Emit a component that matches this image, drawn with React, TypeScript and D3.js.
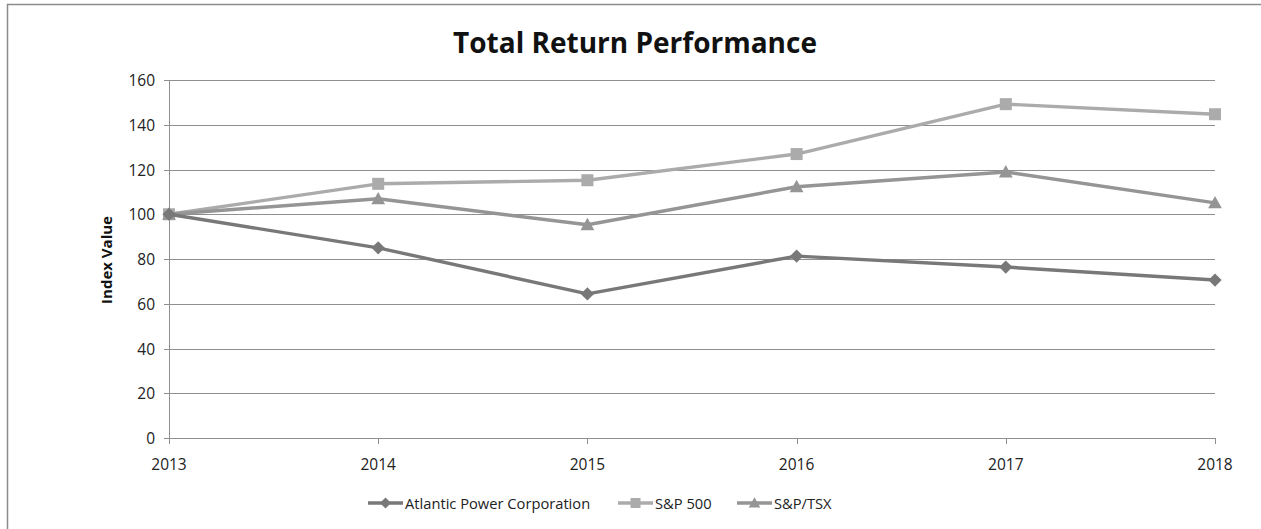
import React, { useEffect, useRef } from "react";
import * as d3 from "d3";

const years = ["2013", "2014", "2015", "2016", "2017", "2018"];
const atlanticPower = [100, 85, 64.4, 81.3, 76.4, 70.6];
const sp500 = [100, 113.6, 115.2, 126.9, 149.2, 144.7];
const spTsx = [100, 106.9, 95.3, 112.3, 118.9, 105.1];
const yTicks = [0, 20, 40, 60, 80, 100, 120, 140, 160];

const seriesDefs = [
  { name: "Atlantic Power Corporation", values: atlanticPower, color: "#787878", marker: "diamond" },
  { name: "S&P 500", values: sp500, color: "#ababab", marker: "square" },
  { name: "S&P/TSX", values: spTsx, color: "#959595", marker: "triangle" },
];

const W = 1261;
const H = 529;
const FONT = "'Open Sans', 'DejaVu Sans', sans-serif";

export default function App() {
  const ref = useRef<SVGSVGElement>(null);

  useEffect(() => {
    const svg = d3.select(ref.current);
    svg.selectAll("*").remove();

    const left = 169, right = 1215, top = 80, bottom = 438;
    const x = d3.scalePoint<string>().domain(years).range([left, right]);
    const y = d3.scaleLinear().domain([0, 160]).range([bottom, top]);

    svg.append("rect").attr("width", W).attr("height", H).attr("fill", "#fff");
    svg.append("path").attr("d", `M7.5,${H}V4.5H${W}`).attr("fill", "none").attr("stroke", "#8c8c8c").attr("stroke-width", 1.5);

    svg.append("text")
      .attr("x", 635).attr("y", 53)
      .attr("text-anchor", "middle")
      .attr("font-family", FONT).attr("font-weight", "bold").attr("font-size", 28)
      .attr("fill", "#111")
      .text("Total Return Performance");

    const g = svg.append("g");
    yTicks.forEach((t) => {
      g.append("line")
        .attr("x1", left - 5).attr("x2", right)
        .attr("y1", Math.round(y(t)) + 0.5).attr("y2", Math.round(y(t)) + 0.5)
        .attr("stroke", "#8f8f8f").attr("stroke-width", 1);
      g.append("text")
        .attr("x", left - 14).attr("y", y(t) + 6)
        .attr("text-anchor", "end")
        .attr("font-family", FONT).attr("font-size", 15.5).attr("fill", "#222")
        .text(String(t));
    });
    g.append("line").attr("x1", left + 0.5).attr("x2", left + 0.5).attr("y1", top).attr("y2", bottom + 5)
      .attr("stroke", "#8f8f8f");
    years.forEach((yr) => {
      const px = Math.round(x(yr)!) + 0.5;
      g.append("line").attr("x1", px).attr("x2", px).attr("y1", bottom).attr("y2", bottom + 6).attr("stroke", "#8f8f8f");
      g.append("text")
        .attr("x", x(yr)!).attr("y", 470)
        .attr("text-anchor", "middle")
        .attr("font-family", FONT).attr("font-size", 15.5).attr("fill", "#222")
        .text(yr);
    });

    svg.append("text")
      .attr("transform", `translate(112,${(top + bottom) / 2 + 1}) rotate(-90)`)
      .attr("text-anchor", "middle")
      .attr("font-family", FONT).attr("font-weight", "bold").attr("font-size", 15).attr("fill", "#111")
      .text("Index Value");

    const drawMarker = (sel: d3.Selection<SVGGElement, unknown, null, undefined>, type: string, cx: number, cy: number, color: string, s: number) => {
      if (type === "square") {
        sel.append("rect").attr("x", cx - s).attr("y", cy - s).attr("width", 2 * s).attr("height", 2 * s).attr("fill", color);
      } else if (type === "diamond") {
        const d = s * 1.1;
        sel.append("path").attr("d", `M${cx},${cy - d}L${cx + d},${cy}L${cx},${cy + d}L${cx - d},${cy}Z`).attr("fill", color);
      } else {
        const d = s * 1.15;
        sel.append("path").attr("d", `M${cx},${cy - d}L${cx + d},${cy + d * 0.8}L${cx - d},${cy + d * 0.8}Z`).attr("fill", color);
      }
    };

    const line = d3.line<number>().x((_, i) => x(years[i])!).y((v) => y(v));
    const order = [1, 2, 0];
    order.forEach((si) => {
      const s = seriesDefs[si];
      const sg = svg.append("g");
      sg.append("path").attr("d", line(s.values)!).attr("fill", "none").attr("stroke", s.color).attr("stroke-width", 3.4).attr("stroke-linejoin", "round");
      s.values.forEach((v, i) => drawMarker(sg, s.marker, x(years[i])!, y(v), s.color, 6));
    });

    const legendX = [368, 618, 737];
    seriesDefs.forEach((s, i) => {
      const lx = legendX[i];
      const ly = 503;
      const lg = svg.append("g");
      lg.append("line").attr("x1", lx).attr("x2", lx + 35).attr("y1", ly).attr("y2", ly).attr("stroke", s.color).attr("stroke-width", 3.4);
      drawMarker(lg, s.marker, lx + 17.5, ly, s.color, 5);
      lg.append("text").attr("x", lx + 37).attr("y", ly + 5.5)
        .attr("font-family", FONT).attr("font-size", 14.7).attr("fill", "#222")
        .text(s.name);
    });
  }, []);

  return (
    <svg ref={ref} width={W} height={H} style={{ position: "absolute", left: 0, top: 0, display: "block" }} />
  );
}
